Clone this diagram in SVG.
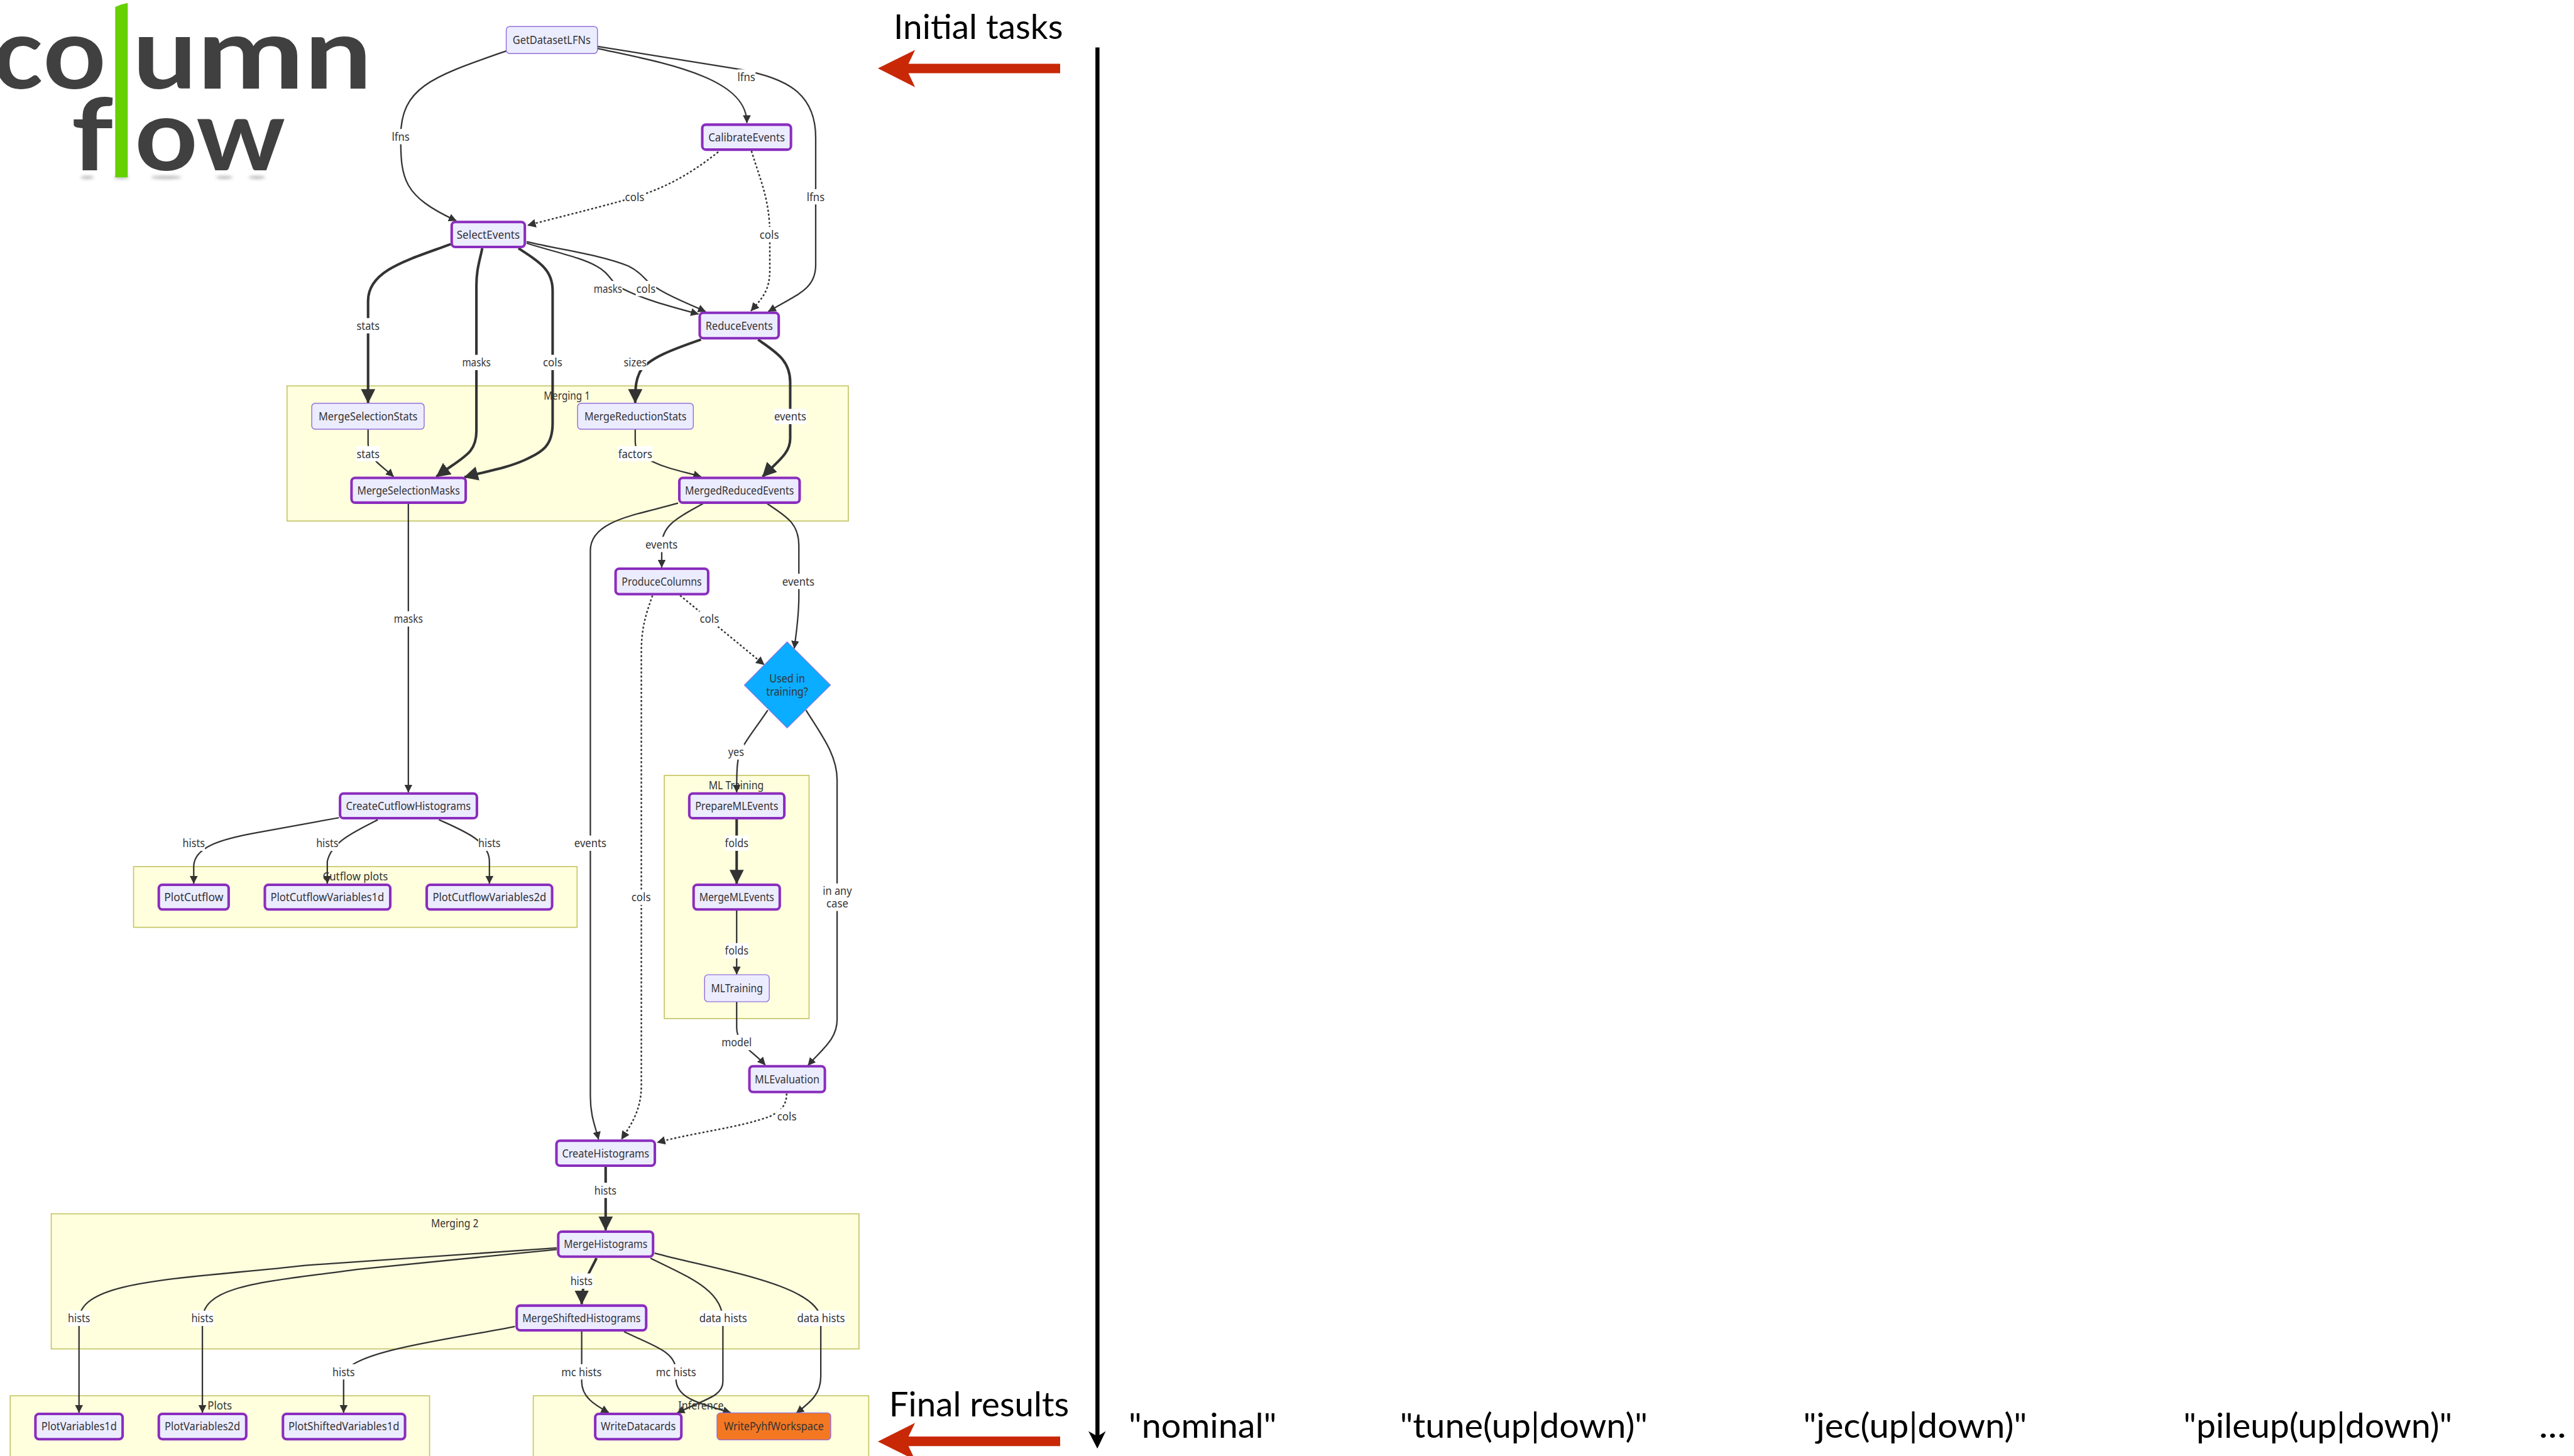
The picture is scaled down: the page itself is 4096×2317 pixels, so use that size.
<svg xmlns="http://www.w3.org/2000/svg" width="4096" height="2317" viewBox="0 0 4096 2317">
<style>
text{font-family:"Noto Sans","Open Sans",sans-serif;font-size:22.4px;fill:#333;text-anchor:middle}
.n rect{fill:#ececff;stroke:#9370db;stroke-width:1.8}
.b rect{fill:#ececff;stroke:#8a2dbd;stroke-width:5}
.o rect{fill:#f47822;stroke:#9370db;stroke-width:1.8}
.c{fill:#ffffde;stroke:#c4c462;stroke-width:2}
.e{fill:none;stroke:#333;stroke-width:2.8;marker-end:url(#a)}
.t{fill:none;stroke:#333;stroke-width:5;marker-end:url(#a)}
.d{fill:none;stroke:#333;stroke-width:3;stroke-dasharray:4 4;marker-end:url(#a)}
.lb{fill:#fff}
.big{font-family:Lato,"Open Sans",sans-serif;font-size:66px;fill:#000;text-anchor:start}
.logo{font-family:Lato,"Open Sans",sans-serif;font-weight:700;font-size:195px;fill:#404040;text-anchor:start}
.red{fill:#c82806}
</style>
<defs>
<marker id="a" viewBox="0 0 10 10" refX="9.5" refY="5" markerWidth="5.6" markerHeight="5.6" orient="auto" markerUnits="strokeWidth"><path d="M0,0L10,5L0,10z" fill="#333"/></marker>
<filter id="bl" x="-50%" y="-100%" width="200%" height="300%"><feGaussianBlur stdDeviation="3"/></filter>
</defs>
<rect width="4096" height="2317" fill="#fff"/>
<g transform="scale(0.81125)">
<g id="logo">
<g fill="#999" filter="url(#bl)" opacity="0.7">
<ellipse cx="171" cy="348" rx="13" ry="3"/><ellipse cx="238" cy="348" rx="15" ry="3"/><ellipse cx="326" cy="348" rx="30" ry="3"/><ellipse cx="440" cy="348" rx="16" ry="3"/><ellipse cx="504" cy="348" rx="16" ry="3"/>
</g>
<text class="logo" x="-14" y="174" textLength="98" lengthAdjust="spacingAndGlyphs">c</text>
<text class="logo" x="84" y="174" textLength="124" lengthAdjust="spacingAndGlyphs">o</text>
<text class="logo" x="260" y="174" textLength="126" lengthAdjust="spacingAndGlyphs">u</text>
<text class="logo" x="386" y="174" textLength="211" lengthAdjust="spacingAndGlyphs">m</text>
<text class="logo" x="597" y="174" textLength="133" lengthAdjust="spacingAndGlyphs">n</text>
<text class="logo" x="140" y="334" textLength="82" lengthAdjust="spacingAndGlyphs">f</text>
<text class="logo" x="264" y="334" textLength="124" lengthAdjust="spacingAndGlyphs">o</text>
<text class="logo" x="385" y="334" textLength="175" lengthAdjust="spacingAndGlyphs">w</text>
<path d="M226,13.5Q238,8 250.6,6V348H226z" fill="#66d000"/>
</g>
<g id="clusters">
<rect class="c" x="563" y="757" width="1101" height="265"/>
<text x="1112" y="784" textLength="91" lengthAdjust="spacingAndGlyphs">Merging 1</text>
<rect class="c" x="262" y="1700" width="870" height="119"/>
<text x="697" y="1727" textLength="128" lengthAdjust="spacingAndGlyphs">Cutflow plots</text>
<rect class="c" x="1303" y="1521" width="284" height="477"/>
<text x="1444" y="1548" textLength="108" lengthAdjust="spacingAndGlyphs">ML Training</text>
<rect class="c" x="100.500" y="2381" width="1584.500" height="265"/>
<text x="892" y="2408" textLength="93" lengthAdjust="spacingAndGlyphs">Merging 2</text>
<rect class="c" x="20" y="2738" width="822.600" height="140"/>
<text x="431" y="2765" textLength="48" lengthAdjust="spacingAndGlyphs">Plots</text>
<rect class="c" x="1046" y="2738" width="658" height="140"/>
<text x="1375" y="2765" textLength="89" lengthAdjust="spacingAndGlyphs">Inference</text>
</g>
<g id="connectors">
<path class="e" d="M993,100C850,150 786,170 786,268C786,350 790,385 895,433"/>
<path class="e" d="M1172,95C1250,112 1320,125 1380,150C1440,175 1465,205 1465,241"/>
<path class="e" d="M1172,91L1457,137C1540,155 1600,180 1600,270L1600,520C1600,565 1570,575 1507,611"/>
<path class="d" d="M1409,298C1350,345 1300,370 1245,387C1170,408 1100,425 1035,442"/>
<path class="d" d="M1474,296C1490,350 1510,390 1510,460L1510,530C1510,570 1495,585 1473,610"/>
<path class="e" d="M1033,477C1090,495 1140,505 1170,522C1195,535 1200,555 1215,563C1255,585 1310,600 1370,616"/>
<path class="e" d="M1033,474C1100,490 1180,500 1233,522C1260,535 1265,550 1278,558C1300,575 1340,592 1384,611"/>
<path class="t" d="M884,479C800,510 722,530 722,590L722,790"/>
<path class="t" d="M946,487C940,515 934.500,530 934.500,560L934.500,845C934.500,890 910,895 856,935"/>
<path class="t" d="M1017,487C1060,515 1084,530 1084,570L1084,830C1084,875 1065,885 1030,902C990,920 950,925 911,936"/>
<path class="t" d="M1375,666C1320,685 1270,703 1255,730C1248,745 1246,755 1246,790"/>
<path class="t" d="M1487,666C1520,690 1550,705 1550,750L1550,860C1550,890 1525,905 1496,935"/>
<path class="e" d="M722,842L722,870C722,900 745,910 772,935"/>
<path class="e" d="M1246,842L1246,865C1246,890 1260,895 1279,905C1310,920 1340,925 1375,935"/>
<path class="e" d="M801,988L801,1554"/>
<path class="e" d="M1330,987C1250,1010 1158,1020 1158,1080L1158,2150C1158,2190 1168,2210 1174,2235"/>
<path class="e" d="M1379,988C1330,1015 1298,1030 1298,1070L1298,1113"/>
<path class="e" d="M1505,988C1540,1012 1567,1025 1567,1070L1567,1170C1567,1210 1562,1240 1558,1272"/>
<path class="d" d="M1334,1168L1499,1304"/>
<path class="d" d="M1280,1168C1265,1210 1258,1235 1258,1280L1258,2130C1258,2180 1235,2210 1219,2235"/>
<path class="d" d="M1543,2145C1543,2170 1530,2180 1510,2190C1450,2212 1370,2220 1289,2241"/>
<path class="e" d="M1506,1393C1480,1432 1460,1455 1450,1480C1446,1495 1445,1510 1445,1554"/>
<path class="e" d="M1581,1393C1610,1440 1642,1480 1642,1530L1642,2000C1642,2040 1610,2060 1585,2090"/>
<path class="t" d="M1445,1607L1445,1733"/>
<path class="e" d="M1445,1786L1445,1911"/>
<path class="e" d="M1445,1965L1445,2015C1445,2050 1475,2060 1501,2089"/>
<path class="e" d="M665,1604L500,1634C440,1645 380,1660 380,1700L380,1733"/>
<path class="e" d="M741,1608C700,1630 650,1650 642,1690L642,1733"/>
<path class="e" d="M861,1608C910,1630 960,1650 960,1690L960,1733"/>
<path class="t" d="M1188,2289L1188,2413"/>
<path class="t" d="M1170,2468C1155,2500 1141,2515 1141,2558"/>
<path class="e" d="M1092,2448L600,2482C350,2510 155,2510 155,2590L155,2771"/>
<path class="e" d="M1092,2451L700,2490C520,2515 397,2520 397,2590L397,2771"/>
<path class="e" d="M1276,2468C1350,2505 1418,2530 1418,2590L1418,2710C1418,2740 1380,2745 1328,2772"/>
<path class="e" d="M1284,2458C1400,2490 1610,2520 1610,2590L1610,2700C1610,2735 1590,2750 1562,2772"/>
<path class="e" d="M1010,2602C900,2625 674,2650 674,2700L674,2771"/>
<path class="e" d="M1141,2612L1141,2710C1141,2740 1165,2755 1194,2771"/>
<path class="e" d="M1224,2612C1280,2640 1326,2650 1326,2690L1326,2705C1326,2745 1380,2755 1433,2771"/>
<g id="edge-labels">
<rect class="lb" x="768" y="253" width="36" height="30"/><text x="786" y="276.500" textLength="35" lengthAdjust="spacingAndGlyphs">lfns</text>
<rect class="lb" x="1446" y="136" width="36" height="30"/><text x="1464" y="159" textLength="35" lengthAdjust="spacingAndGlyphs">lfns</text>
<rect class="lb" x="1582" y="371" width="36" height="30"/><text x="1600" y="394" textLength="35" lengthAdjust="spacingAndGlyphs">lfns</text>
<rect class="lb" x="1225" y="372" width="40" height="30"/><text x="1245" y="395" textLength="38" lengthAdjust="spacingAndGlyphs">cols</text>
<rect class="lb" x="1489" y="445" width="40" height="30"/><text x="1509" y="468" textLength="38" lengthAdjust="spacingAndGlyphs">cols</text>
<rect class="lb" x="699" y="624" width="46" height="30"/><text x="722" y="647" textLength="45" lengthAdjust="spacingAndGlyphs">stats</text>
<rect class="lb" x="906" y="696" width="57" height="30"/><text x="934.500" y="719" textLength="56" lengthAdjust="spacingAndGlyphs">masks</text>
<rect class="lb" x="1064" y="696" width="40" height="30"/><text x="1084" y="719" textLength="38" lengthAdjust="spacingAndGlyphs">cols</text>
<rect class="lb" x="1164" y="551" width="57" height="30"/><text x="1192.500" y="574.500" textLength="56" lengthAdjust="spacingAndGlyphs">masks</text>
<rect class="lb" x="1247" y="551" width="40" height="30"/><text x="1267" y="574.500" textLength="38" lengthAdjust="spacingAndGlyphs">cols</text>
<rect class="lb" x="1223" y="696" width="46" height="30"/><text x="1246" y="719" textLength="45" lengthAdjust="spacingAndGlyphs">sizes</text>
<rect class="lb" x="1518" y="802" width="64" height="30"/><text x="1550" y="825" textLength="63" lengthAdjust="spacingAndGlyphs">events</text>
<rect class="lb" x="699" y="875" width="46" height="30"/><text x="722" y="898" textLength="45" lengthAdjust="spacingAndGlyphs">stats</text>
<rect class="lb" x="1212" y="875" width="68" height="30"/><text x="1246" y="898" textLength="67" lengthAdjust="spacingAndGlyphs">factors</text>
<rect class="lb" x="1265.500" y="1053" width="64" height="30"/><text x="1297.500" y="1076" textLength="63" lengthAdjust="spacingAndGlyphs">events</text>
<rect class="lb" x="1534" y="1125.500" width="64" height="30"/><text x="1566" y="1148.500" textLength="63" lengthAdjust="spacingAndGlyphs">events</text>
<rect class="lb" x="772" y="1199" width="58" height="30"/><text x="801" y="1222" textLength="57" lengthAdjust="spacingAndGlyphs">masks</text>
<rect class="lb" x="1371.500" y="1199" width="40" height="30"/><text x="1391.500" y="1222" textLength="38" lengthAdjust="spacingAndGlyphs">cols</text>
<rect class="lb" x="1428" y="1460" width="32" height="30"/><text x="1444" y="1483" textLength="31" lengthAdjust="spacingAndGlyphs">yes</text>
<rect class="lb" x="358" y="1639" width="44" height="30"/><text x="380" y="1662" textLength="43.600" lengthAdjust="spacingAndGlyphs">hists</text>
<rect class="lb" x="620" y="1639" width="44" height="30"/><text x="642" y="1662" textLength="43.600" lengthAdjust="spacingAndGlyphs">hists</text>
<rect class="lb" x="938" y="1639" width="44" height="30"/><text x="960" y="1662" textLength="43.600" lengthAdjust="spacingAndGlyphs">hists</text>
<rect class="lb" x="1126" y="1639" width="64" height="30"/><text x="1158" y="1662" textLength="63" lengthAdjust="spacingAndGlyphs">events</text>
<rect class="lb" x="1422" y="1639" width="46" height="30"/><text x="1445" y="1662" textLength="46" lengthAdjust="spacingAndGlyphs">folds</text>
<rect class="lb" x="1238" y="1745" width="40" height="30"/><text x="1257.500" y="1768" textLength="38" lengthAdjust="spacingAndGlyphs">cols</text>
<rect class="lb" x="1614" y="1733" width="58" height="54"/><text x="1642.500" y="1755" textLength="57" lengthAdjust="spacingAndGlyphs">in any</text><text x="1642.500" y="1780" textLength="43" lengthAdjust="spacingAndGlyphs">case</text>
<rect class="lb" x="1422" y="1850" width="46" height="30"/><text x="1445" y="1873" textLength="46" lengthAdjust="spacingAndGlyphs">folds</text>
<rect class="lb" x="1415" y="2030" width="60" height="30"/><text x="1445" y="2053" textLength="59" lengthAdjust="spacingAndGlyphs">model</text>
<rect class="lb" x="1523" y="2175" width="40" height="30"/><text x="1543.500" y="2198" textLength="38" lengthAdjust="spacingAndGlyphs">cols</text>
<rect class="lb" x="1166" y="2320" width="44" height="30"/><text x="1187.500" y="2343" textLength="43.600" lengthAdjust="spacingAndGlyphs">hists</text>
<rect class="lb" x="1119" y="2498" width="44" height="30"/><text x="1140.600" y="2521" textLength="43.600" lengthAdjust="spacingAndGlyphs">hists</text>
<rect class="lb" x="133" y="2571" width="44" height="30"/><text x="155" y="2594" textLength="43.600" lengthAdjust="spacingAndGlyphs">hists</text>
<rect class="lb" x="375" y="2571" width="44" height="30"/><text x="397" y="2594" textLength="43.600" lengthAdjust="spacingAndGlyphs">hists</text>
<rect class="lb" x="1371" y="2571" width="95" height="30"/><text x="1418.500" y="2594" textLength="94" lengthAdjust="spacingAndGlyphs">data hists</text>
<rect class="lb" x="1563" y="2571" width="95" height="30"/><text x="1610.500" y="2594" textLength="94" lengthAdjust="spacingAndGlyphs">data hists</text>
<rect class="lb" x="652" y="2676" width="44" height="30"/><text x="674" y="2699.500" textLength="43.600" lengthAdjust="spacingAndGlyphs">hists</text>
<rect class="lb" x="1101" y="2676" width="80" height="30"/><text x="1140.600" y="2699.500" textLength="79" lengthAdjust="spacingAndGlyphs">mc hists</text>
<rect class="lb" x="1286" y="2676" width="80" height="30"/><text x="1326" y="2699.500" textLength="79" lengthAdjust="spacingAndGlyphs">mc hists</text>
</g>
</g>
<g id="GetDatasetLFNs" class="n"><rect x="993" y="52" width="179" height="53" rx="7"/><text x="1082" y="86.600" textLength="153" lengthAdjust="spacingAndGlyphs">GetDatasetLFNs</text></g>
<g id="CalibrateEvents" class="b"><rect x="1377.500" y="244.500" width="174" height="49" rx="7"/><text x="1464.500" y="277" textLength="150" lengthAdjust="spacingAndGlyphs">CalibrateEvents</text></g>
<g id="SelectEvents" class="b"><rect x="886" y="435.500" width="143.500" height="49" rx="7"/><text x="957.700" y="468" textLength="124" lengthAdjust="spacingAndGlyphs">SelectEvents</text></g>
<g id="ReduceEvents" class="b"><rect x="1372.500" y="613.500" width="155" height="50" rx="7"/><text x="1450" y="647" textLength="132" lengthAdjust="spacingAndGlyphs">ReduceEvents</text></g>
<g id="MergeSelectionStats" class="n"><rect x="611.500" y="791" width="220.500" height="51" rx="7"/><text x="722" y="825" textLength="194" lengthAdjust="spacingAndGlyphs">MergeSelectionStats</text></g>
<g id="MergeReductionStats" class="n"><rect x="1133" y="791" width="227" height="51" rx="7"/><text x="1246.500" y="825" textLength="200.500" lengthAdjust="spacingAndGlyphs">MergeReductionStats</text></g>
<g id="MergeSelectionMasks" class="b"><rect x="689.500" y="937.500" width="224" height="48.500" rx="7"/><text x="801.500" y="970" textLength="201.600" lengthAdjust="spacingAndGlyphs">MergeSelectionMasks</text></g>
<g id="MergedReducedEvents" class="b"><rect x="1332.500" y="937.500" width="236" height="48.500" rx="7"/><text x="1450.500" y="970" textLength="213.600" lengthAdjust="spacingAndGlyphs">MergedReducedEvents</text></g>
<g id="ProduceColumns" class="b"><rect x="1207.500" y="1115.500" width="181.600" height="50" rx="7"/><text x="1298" y="1148.500" textLength="157" lengthAdjust="spacingAndGlyphs">ProduceColumns</text></g>
<g id="UsedInTraining" class="n"><polygon points="1544,1259 1629,1344 1544,1428 1460,1344" fill="#0aadff" stroke="#9370db" stroke-width="1.400"/><text x="1544" y="1339" textLength="70" lengthAdjust="spacingAndGlyphs">Used in</text><text x="1544" y="1365" textLength="82" lengthAdjust="spacingAndGlyphs">training?</text></g>
<g id="CreateCutflowHistograms" class="b"><rect x="667" y="1556.500" width="268.500" height="48.500" rx="7"/><text x="801" y="1589" textLength="245" lengthAdjust="spacingAndGlyphs">CreateCutflowHistograms</text></g>
<g id="PrepareMLEvents" class="b"><rect x="1352" y="1556.500" width="186.500" height="48.500" rx="7"/><text x="1445" y="1589" textLength="163" lengthAdjust="spacingAndGlyphs">PrepareMLEvents</text></g>
<g id="PlotCutflow" class="b"><rect x="311.500" y="1735.500" width="137" height="48.500" rx="7"/><text x="380" y="1768" textLength="116" lengthAdjust="spacingAndGlyphs">PlotCutflow</text></g>
<g id="PlotCutflowVariables1d" class="b"><rect x="519.500" y="1735.500" width="246" height="48.500" rx="7"/><text x="642" y="1768" textLength="222.700" lengthAdjust="spacingAndGlyphs">PlotCutflowVariables1d</text></g>
<g id="PlotCutflowVariables2d" class="b"><rect x="837" y="1735.500" width="246" height="48.500" rx="7"/><text x="960" y="1768" textLength="222.700" lengthAdjust="spacingAndGlyphs">PlotCutflowVariables2d</text></g>
<g id="MergeMLEvents" class="b"><rect x="1360.500" y="1735.500" width="169" height="48.500" rx="7"/><text x="1445" y="1768" textLength="147" lengthAdjust="spacingAndGlyphs">MergeMLEvents</text></g>
<g id="MLTraining" class="n"><rect x="1382" y="1912" width="127" height="53" rx="7"/><text x="1445.500" y="1946" textLength="101.600" lengthAdjust="spacingAndGlyphs">MLTraining</text></g>
<g id="MLEvaluation" class="b"><rect x="1470" y="2091.500" width="148" height="50.500" rx="7"/><text x="1544" y="2125" textLength="127" lengthAdjust="spacingAndGlyphs">MLEvaluation</text></g>
<g id="CreateHistograms" class="b"><rect x="1091.500" y="2237.500" width="193" height="49" rx="7"/><text x="1188" y="2270" textLength="171" lengthAdjust="spacingAndGlyphs">CreateHistograms</text></g>
<g id="MergeHistograms" class="b"><rect x="1095" y="2416" width="186" height="49" rx="7"/><text x="1188" y="2448.500" textLength="164" lengthAdjust="spacingAndGlyphs">MergeHistograms</text></g>
<g id="MergeShiftedHistograms" class="b"><rect x="1013.500" y="2561" width="254" height="48.500" rx="7"/><text x="1140.500" y="2593" textLength="232" lengthAdjust="spacingAndGlyphs">MergeShiftedHistograms</text></g>
<g id="PlotVariables1d" class="b"><rect x="69.500" y="2773.500" width="171" height="49.500" rx="7"/><text x="155" y="2806" textLength="148" lengthAdjust="spacingAndGlyphs">PlotVariables1d</text></g>
<g id="PlotVariables2d" class="b"><rect x="311.500" y="2773.500" width="171.500" height="49.500" rx="7"/><text x="397" y="2806" textLength="148" lengthAdjust="spacingAndGlyphs">PlotVariables2d</text></g>
<g id="PlotShiftedVariables1d" class="b"><rect x="555" y="2773.500" width="239.500" height="49.500" rx="7"/><text x="674.500" y="2806" textLength="217.600" lengthAdjust="spacingAndGlyphs">PlotShiftedVariables1d</text></g>
<g id="WriteDatacards" class="b"><rect x="1167.500" y="2773.500" width="169" height="49.500" rx="7"/><text x="1252" y="2806" textLength="147" lengthAdjust="spacingAndGlyphs">WriteDatacards</text></g>
<g id="WritePyhfWorkspace" class="o"><rect x="1406.500" y="2771.500" width="223" height="53" rx="7"/><text x="1518" y="2806" textLength="196" lengthAdjust="spacingAndGlyphs">WritePyhfWorkspace</text></g>
<g id="annotations">
<text class="big" x="1753" y="77" textLength="332" lengthAdjust="spacingAndGlyphs">Initial tasks</text>
<text class="big" x="1744" y="2778" textLength="353" lengthAdjust="spacingAndGlyphs">Final results</text>
<path class="red" d="M1722,134L1795,98L1782,125H2079.500V143.700H1782L1795,171z"/>
<path class="red" d="M1722,2827.700L1795,2791L1782,2818H2079.500V2836.700H1782L1795,2864z"/>
<path d="M2148.700,93H2156.700V2815L2169,2807.300L2152.500,2841.700L2135,2807.300L2148.700,2815z" fill="#000"/>
<text class="big" x="2214" y="2820.700" textLength="290" lengthAdjust="spacingAndGlyphs">"nominal"</text>
<text class="big" x="2746" y="2820.700" textLength="486" lengthAdjust="spacingAndGlyphs">"tune(up|down)"</text>
<text class="big" x="3537" y="2820.700" textLength="439" lengthAdjust="spacingAndGlyphs">"jec(up|down)"</text>
<text class="big" x="4283" y="2820.700" textLength="527" lengthAdjust="spacingAndGlyphs">"pileup(up|down)"</text>
<text class="big" x="4980" y="2820.700" textLength="54" lengthAdjust="spacingAndGlyphs">...</text>
</g>
</g>
</svg>
